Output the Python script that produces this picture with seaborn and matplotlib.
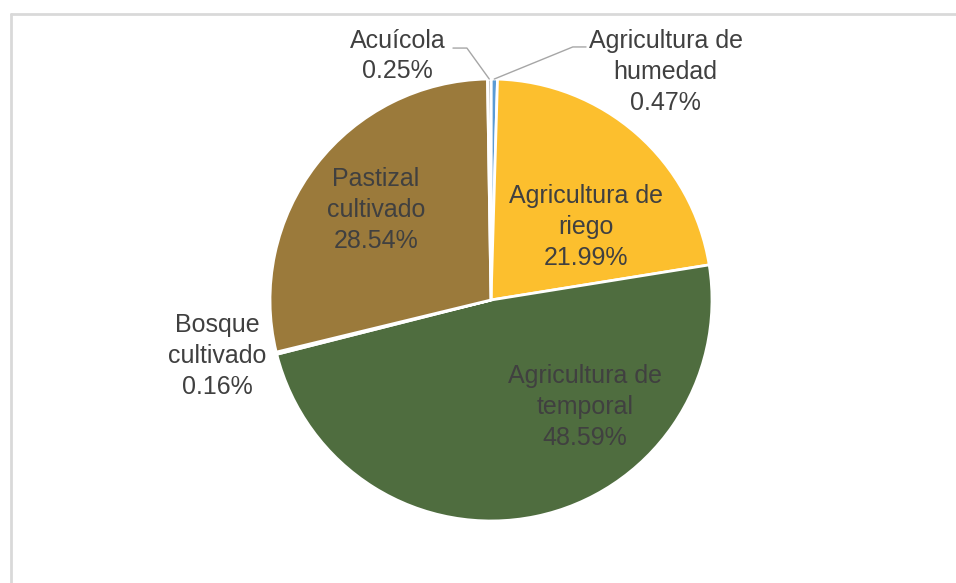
import numpy as np
import matplotlib
matplotlib.use("Agg")
import matplotlib.pyplot as plt
from matplotlib.lines import Line2D
import seaborn as sns

# slices, clockwise from 12 o'clock
categories = ["Agricultura de\nhumedad", "Agricultura de\nriego", "Agricultura de\ntemporal",
              "Bosque\ncultivado", "Pastizal\ncultivado", "Acuícola"]
shares = [0.47, 21.99, 48.59, 0.16, 28.54, 0.25]
colors = ["#5B9BD5", "#FCBF2E", "#4F6D3F", "#8C8C8C", "#9B7A3B", "#A5A5A5"]

# label placement (pie units, radius = 1)
label_pos = [(0.790, 1.032), (0.430, 0.330), (0.425, -0.484),
             (-1.240, -0.253), (-0.520, 0.407), (-0.422, 1.104)]
# leader lines for the two thin top slices: text edge -> elbow
leaders = {0: [(0.430, 1.145), (0.370, 1.145)],
           5: [(-0.172, 1.140), (-0.109, 1.140)]}


def main():
    sns.set_theme(style="white")
    plt.rcParams["font.family"] = ["Liberation Sans", "DejaVu Sans"]

    W, H = 956, 583
    fig = plt.figure(figsize=(W / 100, H / 100), dpi=100)
    fig.patch.set_facecolor("white")

    cx, cy, r = 491, 300, 221
    ax = fig.add_axes([(cx - r) / W, (H - cy - r) / H, 2 * r / W, 2 * r / H])

    wedges, _ = ax.pie(shares, colors=colors, startangle=90, counterclock=False,
                       radius=1, wedgeprops=dict(edgecolor="white", linewidth=2.0))
    ax.set_xlim(-1, 1)
    ax.set_ylim(-1, 1)
    ax.set_aspect("equal")
    ax.axis("off")
    for w in wedges:
        w.set_clip_on(False)

    total = sum(shares)
    cum = np.cumsum([0] + shares)
    for i, (lab, val) in enumerate(zip(categories, shares)):
        x, y = label_pos[i]
        ax.text(x, y, f"{lab}\n{val:.2f}%", ha="center", va="center",
                fontsize=18, color="#404040", linespacing=1.35, clip_on=False)
        if i in leaders:
            mid = (cum[i] + cum[i + 1]) / 2 / total * 360
            ang = np.deg2rad(90 - mid)
            tip = (np.cos(ang), np.sin(ang))
            pts = leaders[i] + [tip]
            ax.plot([p[0] for p in pts], [p[1] for p in pts], color="#A6A6A6",
                    linewidth=1.0, clip_on=False)

    # light frame around the chart area
    fx, fy = 11 / W, 1 - 14 / H
    fig.add_artist(Line2D([fx, 1.0], [fy, fy], transform=fig.transFigure,
                          color="#D9D9D9", linewidth=2))
    fig.add_artist(Line2D([fx, fx], [0.0, fy], transform=fig.transFigure,
                          color="#D9D9D9", linewidth=2))

    fig.savefig("out.png", dpi=100)
    plt.close(fig)


if __name__ == "__main__":
    main()
